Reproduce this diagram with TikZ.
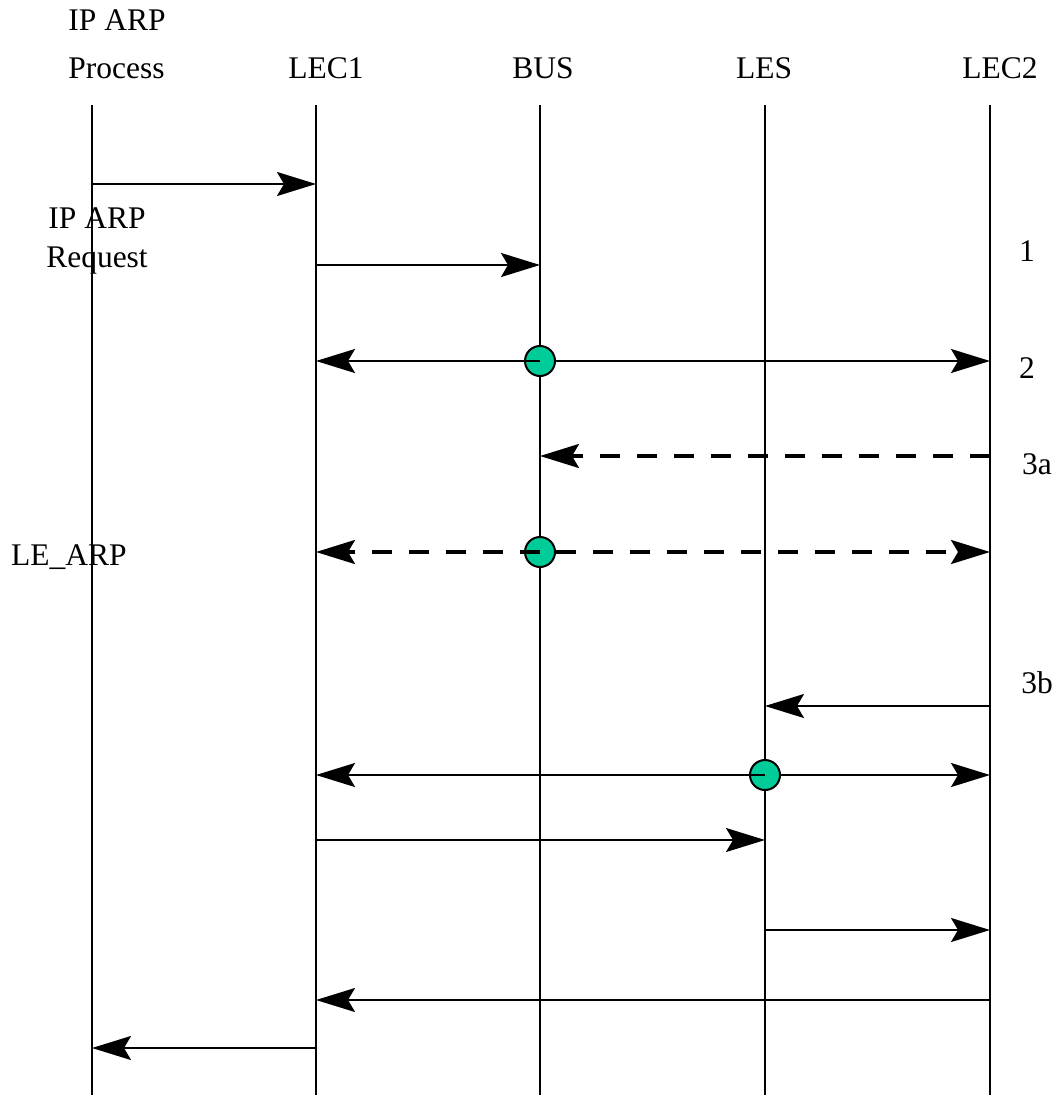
\documentclass[tikz,border=0pt]{standalone}
\usepackage{fontspec}
\setmainfont{Liberation Serif}
\usetikzlibrary{arrows.meta}
\definecolor{mcastgreen}{RGB}{0,204,153}

\begin{document}
\begin{tikzpicture}
  [x=0.5pt, y=-0.5pt,
  every node/.style={inner sep=0pt, font=\fontsize{15.75}{19.5}\selectfont},
  every text node part/.style={align=center},
  tip/.tip={Stealth[length=19.5pt, width=12pt, inset=3.5pt]},
  lsty/.style={line width=1pt},
  asty/.style={-tip, line width=1pt},
  dsty/.style={-tip, line width=1.6pt, dash pattern=on 10pt off 8.5pt},
  csty/.style={circle, draw, fill=mcastgreen, line width=1pt, minimum size=15pt}]
  \useasboundingbox (0,0) rectangle (1057,1097);
  % entities
  \node[anchor=base west] (ipname) at (68,31) {IP ARP};
  \node[anchor=base west] (proc) at (68,79) {Process};
  \node[anchor=base] (lec1) at (326,79) {LEC1};
  \node[anchor=base] (bus) at (543,79) {BUS};
  \node[anchor=base] (les) at (764,79) {LES};
  \node[anchor=base] (lec2) at (1000,79) {LEC2};
  % lifelines
  \foreach \n/\x in {proc/92, lec1/316, bus/540, les/765, lec2/990} {
    \coordinate (\n t) at (\x,105);
    \coordinate (\n b) at (\x,1095);
    \draw[lsty] (\n t) -- (\n b);
  }
  % message rows
  \foreach \r/\y in {1/184, 2/265, 3/361, 4/456, 5/552, 6/706, 7/775, 8/840, 9/930, 10/1000, 11/1048}
    \coordinate (m\r) at (0,\y);

  % ip arp request
  \draw[asty] (proct |- m1) -- (lec1t |- m1);
  \node (req) at (97,241) {IP ARP\\Request};
  \draw[asty] (lec1t |- m2) -- (bust |- m2);
  \node[anchor=base] (s1) at (1027,261) {1};
  % bus floods
  \node[csty] (c1) at (bust |- m3) {};
  \draw[asty] (c1.center) -- (lec1t |- m3);
  \draw[asty] (c1.east) -- (lec2t |- m3);
  \node[anchor=base] (s2) at (1027,378) {2};
  % le_arp via bus
  \draw[dsty] (lec2t |- m4) -- (bust |- m4);
  \node[anchor=base] (s3a) at (1037,474) {3a};
  \node[csty] (c2) at (bust |- m5) {};
  \draw[dsty] (c2.center) -- (lec1t |- m5);
  \draw[dsty] (c2.east) -- (lec2t |- m5);
  \node[anchor=base] (learp) at (69,565) {LE\_ARP};
  % le_arp via les
  \draw[asty] (lec2t |- m6) -- (lest |- m6);
  \node[anchor=base] (s3b) at (1037,693) {3b};
  \node[csty] (c3) at (lest |- m7) {};
  \draw[asty] (c3.center) -- (lec1t |- m7);
  \draw[asty] (c3.east) -- (lec2t |- m7);
  \draw[asty] (lec1t |- m8) -- (lest |- m8);
  \draw[asty] (lest |- m9) -- (lec2t |- m9);
  % reply back
  \draw[asty] (lec2t |- m10) -- (lec1t |- m10);
  \draw[asty] (lec1t |- m11) -- (proct |- m11);
\end{tikzpicture}
\end{document}
